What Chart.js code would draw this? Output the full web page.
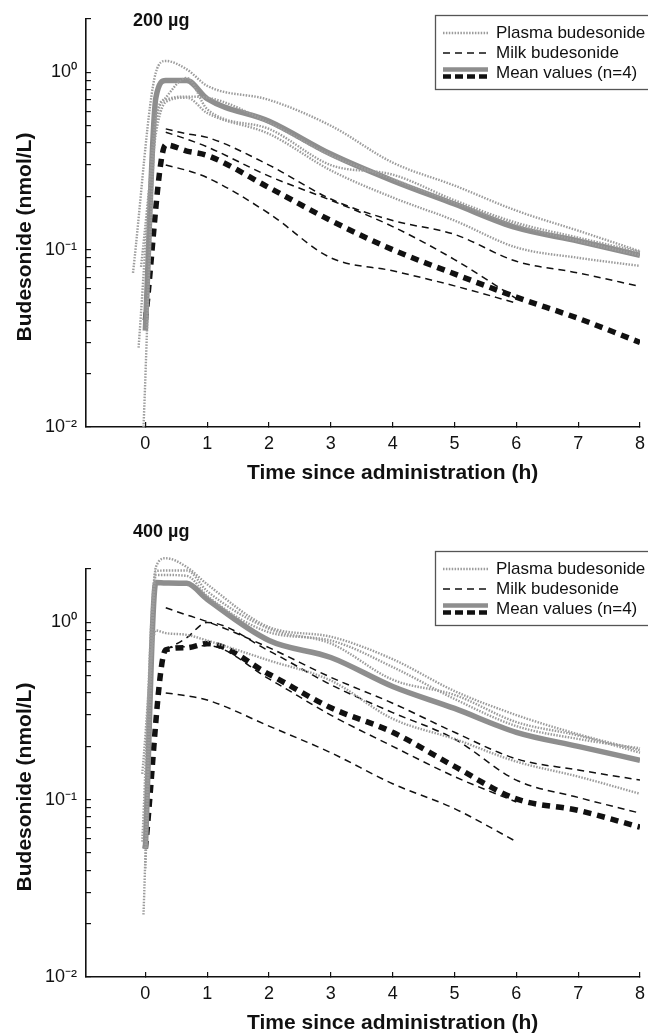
<!DOCTYPE html>
<html>
<head>
<meta charset="utf-8">
<script src="https://cdn.jsdelivr.net/npm/chart.js@4/dist/chart.umd.min.js"></script>
<style>
  html, body { margin: 0; padding: 0; background: #fff; }
  #wrap { position: relative; width: 648px; height: 1034px; }
  canvas { position: absolute; left: 0; }
</style>
</head>
<body>
<div id="wrap">
  <canvas id="c200" width="648" height="500" style="top:0"></canvas>
  <canvas id="c400" width="648" height="534" style="top:500px"></canvas>
</div>
<script>
// sampling times (h)
const plasmaTimes = [0.17, 0.33, 0.67, 1, 2, 3, 4, 5, 6, 7, 8];
const milkTimes = [0.33, 0.67, 1, 2, 3, 4, 5, 6, 7, 8];
const meanPlasmaTimes = [0, 0.17, 0.33, 0.67, 1, 2, 3, 4, 5, 6, 7, 8];
const meanMilkTimes = [0, 0.33, 0.67, 1, 2, 3, 4, 5, 6, 7, 8];

const xTicks = [0, 1, 2, 3, 4, 5, 6, 7, 8];
const yTickLabels = { '0': '10⁰', '-1': '10⁻¹', '-2': '10⁻²' };
const legendLabels = ['Plasma budesonide', 'Milk budesonide', 'Mean values (n=4)'];
const panelLabels = ['200 µg', '400 µg'];

// 200 µg dose, nmol/L
const plasmaStart200 = [[-0.2, 0.074], [-0.11, 0.028], [-0.07, 0.08], [-0.03, 0.01]];
const plasma200 = [
  [1.0, 1.16, 1.04, 0.84, 0.70, 0.50, 0.31, 0.23, 0.166, 0.128, 0.098],
  [0.55, 0.72, 0.93, 0.62, 0.48, 0.30, 0.265, 0.19, 0.142, 0.117, 0.097],
  [0.45, 0.68, 0.72, 0.59, 0.45, 0.28, 0.197, 0.146, 0.103, 0.09, 0.081],
  [0.5, 0.70, 0.73, 0.72, 0.52, 0.34, 0.25, 0.185, 0.138, 0.112, 0.093]
];
const milk200 = [
  [0.48, 0.45, 0.43, 0.30, 0.193, 0.146, 0.122, 0.086, 0.074, 0.062],
  [0.46, 0.42, 0.38, 0.26, 0.19, 0.135, 0.088, 0.053, null, null],
  [0.30, 0.28, 0.255, 0.16, 0.09, 0.076, 0.0625, 0.050, null, null]
];
const meanPlasma200 = [0.035, 0.72, 0.90, 0.90, 0.71, 0.53, 0.346, 0.245, 0.181, 0.133, 0.112, 0.093];
const meanMilk200 = [0.04, 0.39, 0.36, 0.34, 0.224, 0.146, 0.10, 0.073, 0.054, 0.041, 0.030];

// 400 µg dose, nmol/L
const plasmaStart400 = [[-0.03, 0.0225], [-0.05, 0.058], [0, 0.041], [-0.05, 0.14]];
const plasma400 = [
  [2.05, 2.3, 2.05, 1.64, 0.94, 0.83, 0.62, 0.41, 0.30, 0.234, 0.19],
  [1.95, 1.96, 1.96, 1.50, 0.92, 0.76, 0.475, 0.39, 0.274, 0.23, 0.184],
  [1.85, 1.85, 1.83, 1.41, 0.88, 0.79, 0.56, 0.37, 0.26, 0.22, 0.195],
  [0.90, 0.87, 0.85, 0.79, 0.61, 0.47, 0.286, 0.22, 0.164, 0.135, 0.108]
];
const milk400 = [
  [1.21, 1.1, 1.01, 0.72, 0.49, 0.35, 0.24, 0.17, 0.147, 0.129],
  [0.70, 0.82, 1.0, 0.69, 0.445, 0.31, 0.22, 0.129, 0.103, 0.084],
  [0.72, 0.73, 0.74, 0.48, 0.30, 0.20, 0.135, 0.097, null, null],
  [0.40, 0.385, 0.365, 0.26, 0.184, 0.123, 0.089, 0.058, null, null]
];
const meanPlasma400 = [0.053, 1.68, 1.67, 1.66, 1.35, 0.79, 0.634, 0.435, 0.327, 0.24, 0.20, 0.167];
const meanMilk400 = [0.053, 0.70, 0.72, 0.76, 0.51, 0.33, 0.24, 0.154, 0.101, 0.087, 0.070];

const FONT = "'Liberation Sans', Arial, Helvetica, sans-serif";
const GRAY_DOT = '#9c9c9c';
const GRAY_MEAN = '#8e8e8e';
const BLACK = '#111';

// minor log ticks 0.01 .. 2
const yTicks = [];
[0.01, 0.1, 1].forEach(d => { for (let k = 1; k <= 9; k++) if (d * k <= 2.0001) yTicks.push(+(d * k).toPrecision(3)); });

function pts(times, vals) {
  return times.map((t, i) => ({ x: t, y: vals[i] }));
}

const styles = {
  plasma: { borderColor: GRAY_DOT, borderWidth: 2.4, borderDash: [1.5, 1.4] },
  milk: { borderColor: BLACK, borderWidth: 1.5, borderDash: [7, 5] },
  meanPlasma: { borderColor: GRAY_MEAN, borderWidth: 5.5, borderDash: [] },
  meanMilk: { borderColor: BLACK, borderWidth: 5.5, borderDash: [8, 6] }
};

function buildDatasets(starts, plasma, milk, meanP, meanM) {
  const ds = [];
  plasma.forEach((v, i) => {
    const d = [{ x: starts[i][0], y: starts[i][1] }].concat(pts(plasmaTimes, v));
    // peaks may rise a little above the top of the axis, as in the original
    ds.push(Object.assign({ label: 'plasma' + i, data: d, clip: false }, styles.plasma));
  });
  ds.push(Object.assign({ label: 'meanPlasma', data: pts(meanPlasmaTimes, meanP) }, styles.meanPlasma));
  ds.push(Object.assign({ label: 'meanMilk', data: pts(meanMilkTimes, meanM) }, styles.meanMilk));
  milk.forEach((v, i) => {
    ds.push(Object.assign({ label: 'milk' + i, data: pts(milkTimes, v) }, styles.milk));
  });
  return ds;
}

// boxed legend in the upper right, drawn over the plot
const boxLegend = {
  id: 'boxLegend',
  afterDraw(chart, args, opts) {
    const ctx = chart.ctx;
    const left = 435, top = opts.top;
    ctx.save();
    ctx.fillStyle = '#fff';
    ctx.fillRect(left, top, 260, 74);
    ctx.strokeStyle = '#555';
    ctx.lineWidth = 1.3;
    ctx.strokeRect(left + 0.5, top + 0.5, 260, 74);
    const rows = [top + 18, top + 38, top + 58];
    const x1 = 443, x2 = 488;
    function seg(y, st) {
      ctx.beginPath();
      ctx.setLineDash(st.borderDash);
      ctx.strokeStyle = st.borderColor;
      ctx.lineWidth = st.borderWidth;
      ctx.moveTo(x1, y); ctx.lineTo(x2, y);
      ctx.stroke();
    }
    seg(rows[0], styles.plasma);
    seg(rows[1], styles.milk);
    seg(rows[2] - 3.5, Object.assign({}, styles.meanPlasma, { borderWidth: 4.5 }));
    seg(rows[2] + 3.5, Object.assign({}, styles.meanMilk, { borderWidth: 4.5, borderDash: [8, 4] }));
    ctx.setLineDash([]);
    ctx.fillStyle = BLACK;
    ctx.font = '17px ' + FONT;
    ctx.textBaseline = 'middle';
    ctx.textAlign = 'left';
    legendLabels.forEach((t, i) => ctx.fillText(t, 496, rows[i]));
    ctx.restore();
  }
};

// dose label and axis titles
const titles = {
  id: 'titles',
  afterDraw(chart, args, opts) {
    const ctx = chart.ctx;
    const a = chart.chartArea;
    const xs = chart.scales.x;
    ctx.save();
    ctx.fillStyle = BLACK;
    ctx.font = 'bold 18px ' + FONT;
    ctx.textAlign = 'left';
    ctx.textBaseline = 'middle';
    ctx.fillText(opts.label, 133, opts.labelY);

    ctx.font = 'bold 21px ' + FONT;
    ctx.textAlign = 'center';
    const cx = (xs.getPixelForValue(xTicks[0]) + xs.getPixelForValue(xTicks[xTicks.length - 1])) / 2;
    ctx.fillText('Time since administration (h)', cx, a.bottom + 46);

    ctx.translate(25, (a.top + a.bottom) / 2 + 14);
    ctx.rotate(-Math.PI / 2);
    ctx.fillText('Budesonide (nmol/L)', 0, 0);
    ctx.restore();
  }
};

function makeChart(id, datasets, padTop, xHeight, label, labelY, legendTop) {
  new Chart(document.getElementById(id), {
    type: 'line',
    data: { datasets: datasets },
    options: {
      responsive: false,
      animation: false,
      layout: { padding: { top: padTop, right: 8, left: 0, bottom: 0 } },
      elements: {
        point: { radius: 0 },
        line: { cubicInterpolationMode: 'monotone', borderCapStyle: 'butt' }
      },
      plugins: {
        legend: { display: false },
        tooltip: { enabled: false },
        boxLegend: { top: legendTop },
        titles: { label: label, labelY: labelY }
      },
      scales: {
        x: {
          type: 'linear',
          min: -0.96,
          max: 8,
          afterBuildTicks: s => { s.ticks = xTicks.map(v => ({ value: v })); },
          afterFit: s => { s.height = xHeight; s.paddingLeft = 0; s.paddingRight = 0; },
          border: { display: true, color: BLACK, width: 1.6 },
          grid: { drawOnChartArea: false, drawTicks: true, tickLength: -5, color: BLACK, lineWidth: 1.2 },
          ticks: { autoSkip: false, maxRotation: 0, padding: 11, color: BLACK, font: { family: FONT, size: 18 } }
        },
        y: {
          type: 'logarithmic',
          min: 0.01,
          max: 2,
          afterBuildTicks: s => { s.ticks = yTicks.map(v => ({ value: v })); },
          afterFit: s => { s.width = 86; s.paddingTop = 0; s.paddingBottom = 0; },
          border: { display: true, color: BLACK, width: 1.6 },
          grid: { drawOnChartArea: false, drawTicks: true, tickLength: -5, color: BLACK, lineWidth: 1.2 },
          ticks: {
            autoSkip: false,
            padding: 14,
            color: BLACK,
            font: { family: FONT, size: 18 },
            callback: v => {
              const e = Math.log10(v);
              return Math.abs(e - Math.round(e)) < 1e-6 ? (yTickLabels[String(Math.round(e))] || '') : '';
            }
          }
        }
      }
    },
    plugins: [boxLegend, titles]
  });
}

makeChart('c200', buildDatasets(plasmaStart200, plasma200, milk200, meanPlasma200, meanMilk200),
  19, 73, panelLabels[0], 21, 15);
makeChart('c400', buildDatasets(plasmaStart400, plasma400, milk400, meanPlasma400, meanMilk400),
  69, 57, panelLabels[1], 32, 51);
</script>
</body>
</html>
